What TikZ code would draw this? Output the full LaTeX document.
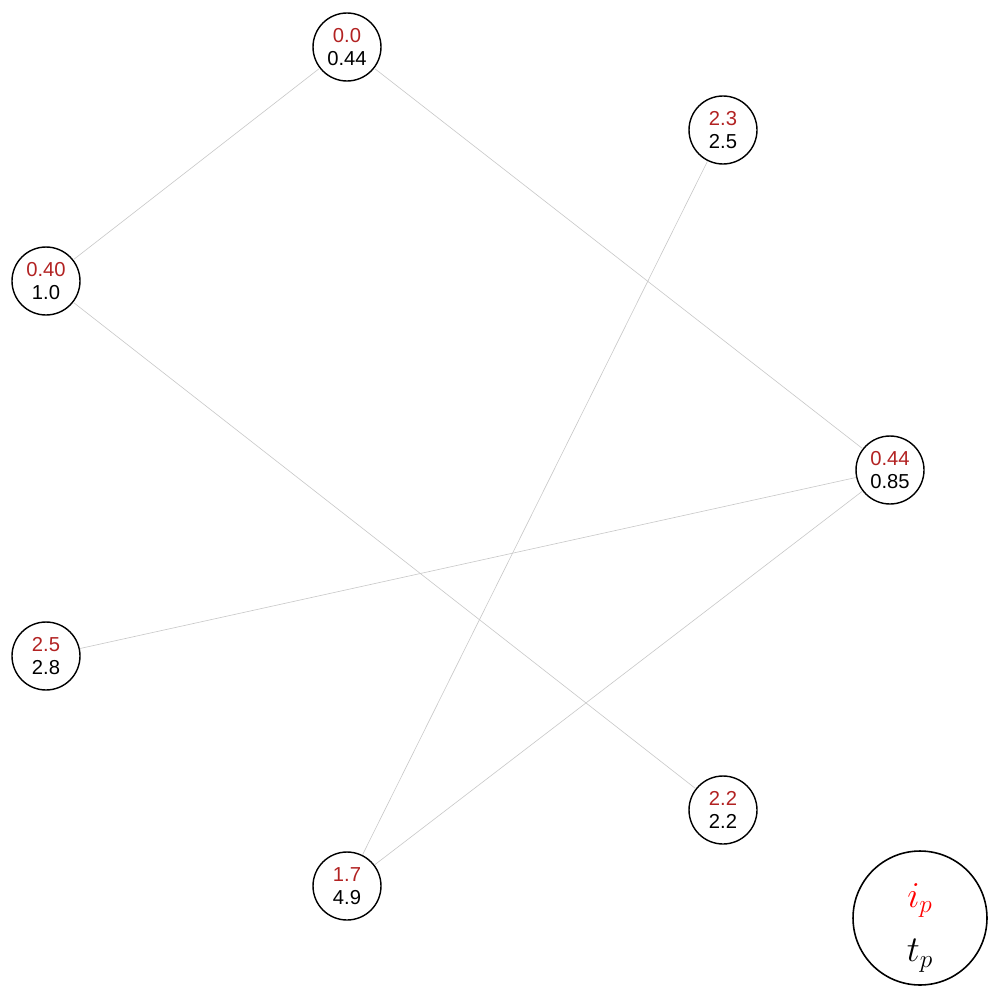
\documentclass[tikz,border=0pt]{standalone}
\usepackage{fontspec}
\setmainfont{Liberation Sans}
\usepackage{xcolor,tikz}
\usetikzlibrary{positioning}
\definecolor{redval}{HTML}{B22222}
\definecolor{edgegray}{HTML}{C8C8C8}

\tikzset{
 vert/.style={draw,circle,line width=.8pt,minimum size=1.36cm,inner sep=0pt,align=center,
  font=\fontsize{11.5}{13.4}\selectfont},
 link/.style={draw=edgegray,line width=.35pt},
 keynode/.style={draw,circle,line width=.9pt,minimum size=2.68cm,inner sep=0pt,align=center,
  font=\fontsize{21}{31}\selectfont}
}

\begin{document}
\begin{tikzpicture}[x=.02cm,y=-.02cm]
\useasboundingbox (0,0) rectangle (993,990);
\foreach \n/\xx/\yy/\i/\t in {a/347/47/0.0/0.44,b/723/130/2.3/2.5,c/46/281/0.40/1.0,
 d/890/470/0.44/0.85,e/46/656/2.5/2.8,f/723/810/2.2/2.2,g/347/886/1.7/4.9} {
 \node[vert] (\n) at (\xx,\yy) {\textcolor{redval}{\i}\\\t};}
% edges
\foreach \p/\q in {a/c,a/d,c/f,b/g,d/e,d/g}
 \draw[link] (\p) -- (\q);
% key
\node[keynode] (key) at (920,918) {};
\node[font=\fontsize{21}{31}\selectfont,align=center] at (920,928) {$\textcolor{red}{i_p}$\\$t_p$};
\end{tikzpicture}
\end{document}
